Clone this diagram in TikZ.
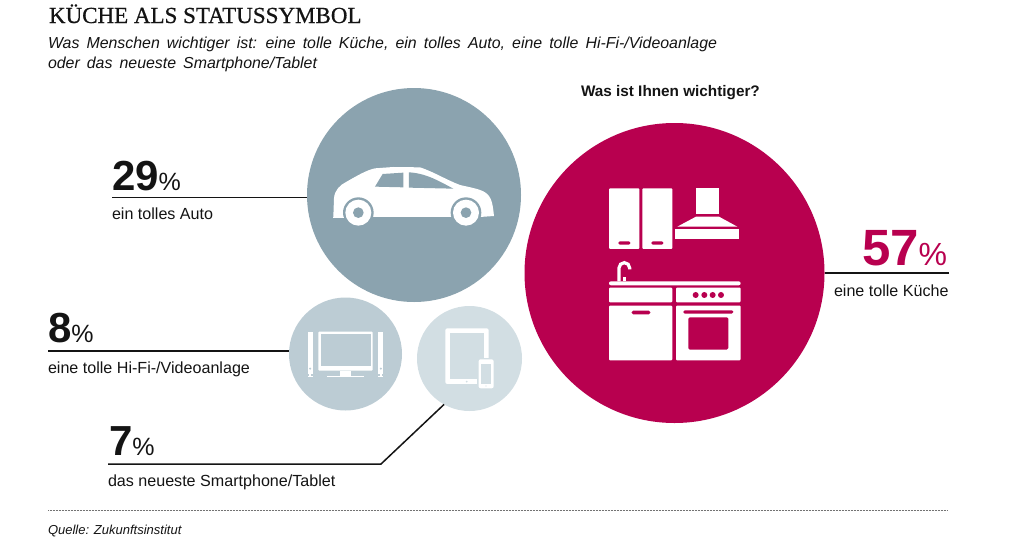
\documentclass[tikz,border=0pt]{standalone}
\usepackage{fontspec}
\setmainfont{Liberation Sans}
\newfontfamily\titlefont[FakeBold=0.6]{Liberation Serif}
\newfontfamily\subfont[WordSpace=1.6]{Liberation Sans}
\usetikzlibrary{calc}

\definecolor{autoblue}{HTML}{8BA3AF}
\definecolor{hifiblue}{HTML}{BCCCD4}
\definecolor{tabletblue}{HTML}{D2DEE3}
\definecolor{kitchenred}{HTML}{B8004F}
\definecolor{inkblack}{HTML}{141414}

\tikzset{
  bubble/.style={circle,inner sep=0pt,outer sep=0pt},
  txt/.style={anchor=base west,inner sep=0pt,outer sep=0pt,text=inkblack},
  big/.style={txt,font=\fontsize{42}{42}\selectfont\bfseries},
  pct/.style={txt,font=\fontsize{25}{25}\selectfont},
  caption/.style={txt,font=\fontsize{16.1}{16.1}\selectfont},
  sub/.style={txt,font=\fontsize{15.9}{15.9}\selectfont\subfont\itshape},
  leader/.style={draw=inkblack,line width=1.5pt},
  icon/.style={x=.3333pt,y=-.3333pt}
}

\begin{document}
\begin{tikzpicture}[x=1pt,y=-1pt]
  \useasboundingbox[fill=white] (0,0) rectangle (1024,541);

  % headings
  \node[txt,font=\fontsize{23}{23}\selectfont\titlefont] (title) at (49,23) {KÜCHE ALS STATUSSYMBOL};
  \node[sub] (sub1) at (48,48) {Was Menschen wichtiger ist: eine tolle Küche, ein tolles Auto, eine tolle Hi-Fi-/Videoanlage};
  \node[sub] (sub2) at (48,68) {oder das neueste Smartphone/Tablet};
  \node[txt,font=\fontsize{15.3}{15.3}\selectfont\bfseries] (frage) at (581,96) {Was ist Ihnen wichtiger?};

  % bubbles
  \node[bubble,fill=autoblue,minimum size=214pt]    (auto)   at (414,195)   {};
  \node[bubble,fill=hifiblue,minimum size=113pt]    (hifi)   at (345.5,354) {};
  \node[bubble,fill=tabletblue,minimum size=105pt]  (tablet) at (469.5,358.5) {};
  \node[bubble,fill=kitchenred,minimum size=300pt]  (kueche) at (674.5,273) {};

  % numbers
  \node[big] (p29) at (112,190) {29};
  \node[pct] (s29) at (p29.base east) {\%};
  \node[caption] (c29) at (112,219) {ein tolles Auto};
  \node[big] (p8) at (48,342) {8};
  \node[pct] (s8) at (p8.base east) {\%};
  \node[caption] (c8) at (48,373) {eine tolle Hi-Fi-/Videoanlage};
  \node[big] (p7) at (109,455) {7};
  \node[pct] (s7) at (p7.base east) {\%};
  \node[caption] (c7) at (108,486) {das neueste Smartphone/Tablet};
  \node[big,text=kitchenred,font=\fontsize{51}{51}\selectfont\bfseries] (p57) at (862,265) {57};
  \node[pct,text=kitchenred,font=\fontsize{32}{32}\selectfont] (s57) at (p57.base east) {\%};
  \node[caption] (c57) at (834,296) {eine tolle Küche};
  \node[txt,font=\fontsize{13}{13}\selectfont\itshape] (quelle) at (48,534) {Quelle: Zukunftsinstitut};

  % connectors
  \coordinate (l29) at (112,197.5);
  \coordinate (l8)  at (48,351);
  \coordinate (l7)  at (108,464);
  \coordinate (k7)  at (381,464);
  \coordinate (r57) at (949,273);
  \coordinate (q1)  at (48,510);
  \coordinate (q2)  at (948,510);
  \draw[leader] (l29) -- (l29 -| auto.west);
  \draw[leader] (l8) -- (l8 -| hifi.west);
  \draw[leader] (l7) -- (k7) -- (tablet.241);
  \draw[leader] (r57) -- (kueche.east);
  \draw[densely dotted,draw=black!55,line width=.5pt] (q1) -- (q2);

  % car icon
  \begin{scope}[shift={(300,90)},icon]
    \fill[white] (100,380) -- (102,325) .. controls (104,300) and (120,285) .. (140,275)
      .. controls (170,258) and (200,240) .. (225,235) -- (280,231) -- (360,232)
      .. controls (400,245) and (440,270) .. (480,285) .. controls (510,292) and (540,297) .. (555,307)
      .. controls (575,320) and (578,340) .. (582,378) -- (540,381) -- (100,381) -- cycle;
    \fill[autoblue] (225,290) -- (248,252) -- (310,248) -- (310,292) -- cycle;
    \fill[autoblue] (327,247) .. controls (380,250) and (420,275) .. (460,296) -- (327,293) -- cycle;
    \foreach \wx in {175,498} {
      \fill[autoblue] (\wx,368) circle[radius=46];
      \fill[white] (\wx,368) circle[radius=39];
      \fill[autoblue] (\wx,368) circle[radius=16];
    }
    \fill[white] (100,380) rectangle (131,381);
  \end{scope}

  % tv icon
  \begin{scope}[shift={(300,90)},icon]
    \fill[white,rounded corners=1pt] (55,725) rectangle (218,842);
    \fill[hifiblue] (62,732) rectangle (212,828);
    \fill[white] (120,842) rectangle (153,858);
    \fill[white] (80,857) rectangle (193,862);
    \foreach \sx in {23,235} {
      \fill[white] (\sx,725) rectangle ++(15,100);
      \fill[white] (\sx,825) rectangle ++(15,28);
      \fill[hifiblue] (\sx+7.5,836) circle[radius=3.5];
      \fill[white] (\sx+5,853) rectangle ++(5,7);
      \fill[white] (\sx,859) rectangle ++(15,3);
    }
  \end{scope}

  % tablet icon
  \begin{scope}[shift={(300,90)},icon]
    \fill[white,rounded corners=2pt] (436,715) rectangle (566,882);
    \fill[tabletblue] (449,728) rectangle (553,868);
    \fill[tabletblue] (500,875) circle[radius=3];
    \fill[tabletblue] (530,803) rectangle (566,882);
    \fill[white,rounded corners=2pt] (536,808) rectangle (581,895);
    \fill[tabletblue] (543,823) rectangle (574,882);
    \fill[tabletblue] (558,888) circle[radius=2];
  \end{scope}

  % kitchen icon
  \begin{scope}[shift={(590,170)},icon]
    \fill[white,rounded corners=1pt] (57,55) rectangle (148,237);
    \fill[white,rounded corners=1pt] (157,55) rectangle (247,237);
    \fill[kitchenred,rounded corners=1.5pt] (85,214) rectangle (121,224);
    \fill[kitchenred,rounded corners=1.5pt] (184,214) rectangle (220,224);
    \fill[white] (318,55) rectangle (387,133);
    \fill[white] (318,140) -- (387,140) -- (442,170) -- (262,170) -- cycle;
    \fill[white] (255,178) rectangle (448,208);
    \draw[white,line width=3.2pt] (87,334) -- (87,294) arc[start angle=180,end angle=360,x radius=16,y radius=16] -- (119,298);
    \fill[white] (100,322) rectangle (109,334);
    \fill[white,rounded corners=2pt] (57,334) rectangle (452,346);
    \fill[white,rounded corners=1pt] (57,353) rectangle (247,397);
    \fill[white,rounded corners=1pt] (258,353) rectangle (452,397);
    \foreach \hx in {317,343,368,393}
      \fill[kitchenred] (\hx,375) circle[radius=9];
    \fill[white,rounded corners=1pt] (57,407) rectangle (247,571);
    \fill[kitchenred,rounded corners=1.5pt] (125,422) rectangle (181,433);
    \fill[white,rounded corners=1pt] (258,407) rectangle (452,571);
    \fill[kitchenred,rounded corners=1.5pt] (280,421) rectangle (430,431);
    \fill[kitchenred,rounded corners=1.5pt] (295,442) rectangle (415,539);
  \end{scope}
\end{tikzpicture}
\end{document}
